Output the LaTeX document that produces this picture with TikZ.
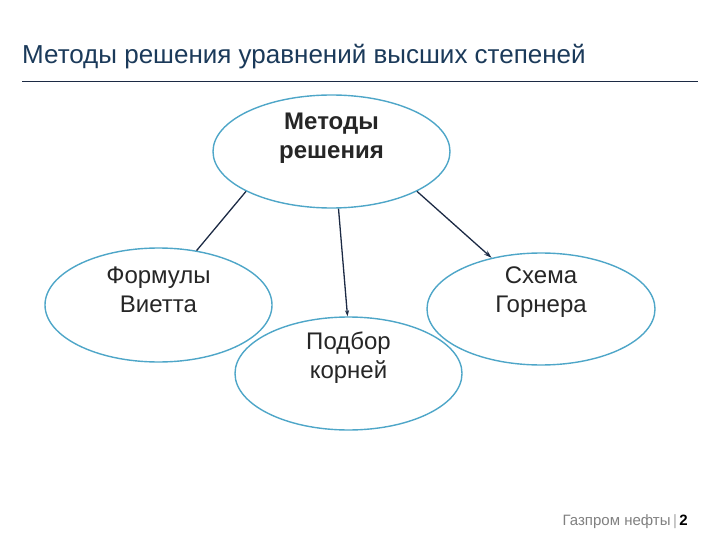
\documentclass[tikz,border=0pt]{standalone}
\usepackage{fontspec}
\setmainfont{Liberation Sans}
\usepackage{xcolor}
\usetikzlibrary{arrows.meta,shapes.geometric}
\definecolor{titleblue}{HTML}{1B3A5A}
\definecolor{ringblue}{HTML}{4EA6C8}
\definecolor{linknavy}{HTML}{1C2A44}
\definecolor{textgray}{HTML}{262626}

\begin{document}
\begin{tikzpicture}[>=Stealth, x=1pt, y=-1pt,
    method/.style={ellipse, draw=ringblue, line width=1.4pt, fill=white, inner sep=0pt},
    methodtext/.style={align=center, font=\fontsize{24}{29}\selectfont, text=textgray},
    link/.style={draw=linknavy, line width=1.3pt}]
\useasboundingbox (0,0) rectangle (720,540);

\node[anchor=base west, text=titleblue, font=\fontsize{26}{30}\selectfont, inner sep=0pt] (title) at (22,64) {Методы решения уравнений высших степеней};
\draw[linknavy, line width=0.8pt] (22,81) -- (698,81);

\node[method, minimum width=237pt, minimum height=113pt,
    label={[methodtext, font=\bfseries\fontsize{24}{29}\selectfont, yshift=13pt]center:Методы\\решения}] (root) at (331.5,151.5) {};
\node[method, minimum width=227pt, minimum height=114pt,
    label={[methodtext, yshift=15pt]center:Формулы\\Виетта}] (vieta) at (158.5,305) {};
\node[method, minimum width=228pt, minimum height=112pt,
    label={[methodtext, yshift=17pt]center:Схема\\Горнера}] (horner) at (541,309) {};
\node[method, minimum width=227pt, minimum height=113pt,
    label={[methodtext, yshift=16pt]center:Подбор\\корней}] (roots) at (348.5,373.5) {};

\draw[link] (root.205) -- (vieta.55);
\draw[link, -{Stealth[length=6pt, width=4pt]}] (root.277) -- (roots.91);
\draw[link, -{Stealth[length=8pt, width=5pt]}] (root.335) -- (horner.134);

\node[anchor=base east, inner sep=0pt, font=\fontsize{15}{18}\selectfont] (footer) at (688,525)
    {\textcolor{gray}{Газпром нефты}\,\textcolor{gray!70}{|}\,\textbf{2}};
\end{tikzpicture}
\end{document}
